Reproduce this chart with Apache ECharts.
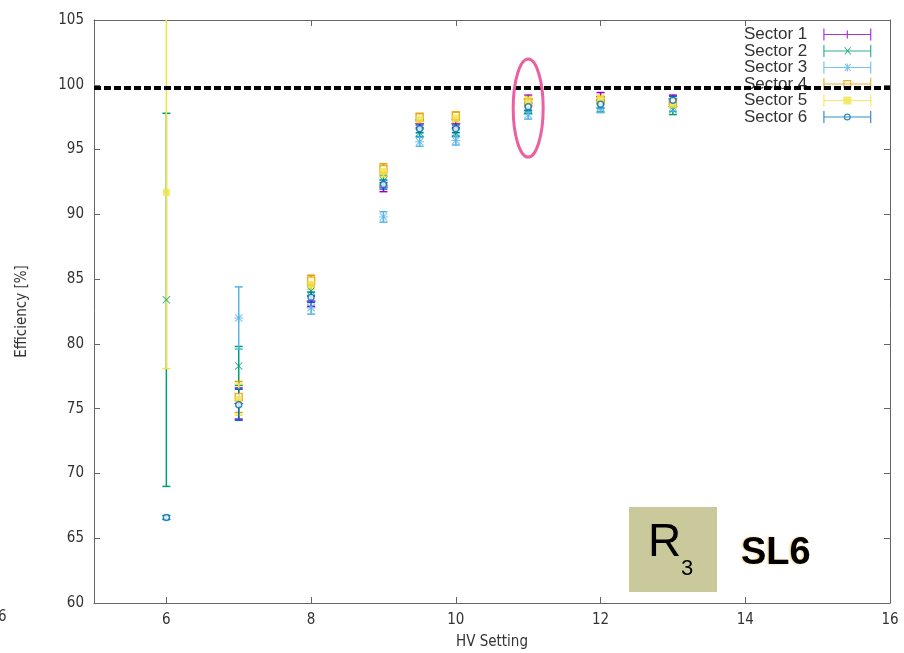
<!DOCTYPE html>
<html>
<head>
<meta charset="utf-8">
<script src="https://cdn.jsdelivr.net/npm/echarts@6/dist/echarts.min.js"></script>
<style>
html,body{margin:0;padding:0;background:#fff;}
#chart{width:904px;height:653px;}
</style>
</head>
<body>
<div id="chart"></div>
<script>
// ---- data ----
const hvSetting = [6, 7, 8, 9, 9.5, 10, 11, 12, 13];
const sectorNames = ['Sector 1', 'Sector 2', 'Sector 3', 'Sector 4', 'Sector 5', 'Sector 6'];
const sector1 = [null, 75.4, 83.3, 92.1, 97.0, 97.0, 98.9, 99.1, 98.9];
const sector1Err = [null, 1.2, 0.4, 0.35, 0.3, 0.3, 0.3, 0.3, 0.3];
const sector2 = [83.4, 78.3, 84.1, 92.6, 96.3, 96.3, 98.1, 98.3, 98.1];
const sector2Err = [14.4, 1.5, 0.4, 0.35, 0.3, 0.3, 0.3, 0.4, 0.4];
const sector3 = [null, 82.0, 82.8, 89.8, 95.6, 95.7, 97.7, 98.2, 98.3];
const sector3Err = [null, 2.4, 0.5, 0.4, 0.35, 0.35, 0.35, 0.35, 0.35];
const sector4 = [null, 75.9, 84.9, 93.5, 97.5, 97.6, 98.6, 98.8, 98.6];
const sector4Err = [null, 1.2, 0.4, 0.4, 0.3, 0.3, 0.3, 0.3, 0.3];
const sector5 = [91.7, 75.7, 84.6, 93.3, 97.3, 97.4, 98.8, 98.9, 98.5];
const sector5Err = [13.6, 1.2, 0.4, 0.4, 0.3, 0.3, 0.3, 0.3, 0.3];
const sector6 = [66.6, 75.3, 83.6, 92.3, 96.6, 96.6, 98.3, 98.5, 98.8];
const sector6Err = [0.15, 1.2, 0.4, 0.35, 0.3, 0.3, 0.3, 0.3, 0.3];
const xTicks = [6, 8, 10, 12, 14, 16];
const referenceLine = 99.8;
const highlightPoint = [11, 98.2];

// ---- styling ----
const colors = ['#9400d3', '#009e73', '#56b4e9', '#e69f00', '#f0e442', '#0072b2'];
const values = [sector1, sector2, sector3, sector4, sector5, sector6];
const errors = [sector1Err, sector2Err, sector3Err, sector4Err, sector5Err, sector6Err];
const Y_MIN = 60, Y_MAX = 105;

const symPlus = 'path://M0,4.4H10V5.6H0Z M4.4,0H5.6V10H4.4Z';
const symCross = 'path://M0.8,0L10,9.2L9.2,10L0,0.8Z M9.2,0L10,0.8L0.8,10L0,9.2Z';
const symStar = 'path://M0,4.4H10V5.6H0Z M4.4,0H5.6V10H4.4Z M1.3,0.5L9.5,8.7L8.7,9.5L0.5,1.3Z M8.7,0.5L9.5,1.3L1.3,9.5L0.5,8.7Z';
const markerDefs = [
  {symbol: symPlus, size: 9},
  {symbol: symCross, size: 8},
  {symbol: symStar, size: 9},
  {symbol: 'rect', size: 7, open: true},
  {symbol: 'rect', size: 7},
  {symbol: 'circle', size: 6, open: true}
];

const base = 'M0,5.4H48V6.6H0Z M0,0H1.2V12H0Z M46.8,0H48V12H46.8Z';
const legendIcons = [
  'path://' + base + ' M23.4,2H24.6V10H23.4Z',
  'path://' + base + ' M21,2.6L21.8,2L27.8,9.2L27,9.8Z M27,2L27.8,2.6L21.8,9.8L21,9.2Z',
  'path://' + base + ' M23.4,2H24.6V10H23.4Z M21,2.6L21.8,2L27.8,9.2L27,9.8Z M27,2L27.8,2.6L21.8,9.8L21,9.2Z',
  'path://' + base + ' M20,2H28V10H20Z M21.3,3.3V8.7H26.7V3.3Z',
  'path://' + base + ' M20,2H28V10H20Z',
  'path://' + base + ' M24,2.5A3.5,3.5 0 1,1 24,9.5A3.5,3.5 0 1,1 24,2.5Z M24,3.8A2.2,2.2 0 1,0 24,8.2A2.2,2.2 0 1,0 24,3.8Z'
];

function errRender(color) {
  return function (params, api) {
    const x = api.value(0), v = api.value(1), e = api.value(2);
    let top = v + e, bot = v - e;
    const topClipped = top > Y_MAX;
    if (topClipped) top = Y_MAX;
    const hi = api.coord([x, top]);
    const lo = api.coord([x, bot]);
    const w = 4;
    const style = {stroke: color, lineWidth: 1.5, fill: null};
    const children = [
      {type: 'line', shape: {x1: hi[0], y1: hi[1], x2: lo[0], y2: lo[1]}, style: style},
      {type: 'line', shape: {x1: lo[0] - w, y1: lo[1], x2: lo[0] + w, y2: lo[1]}, style: style}
    ];
    if (!topClipped) children.push({type: 'line', shape: {x1: hi[0] - w, y1: hi[1], x2: hi[0] + w, y2: hi[1]}, style: style});
    return {type: 'group', children: children};
  };
}

const series = [];
sectorNames.forEach(function (name, s) {
  const errData = [], ptData = [];
  hvSetting.forEach(function (x, i) {
    if (values[s][i] == null) return;
    errData.push([x, values[s][i], errors[s][i]]);
    ptData.push([x, values[s][i]]);
  });
  series.push({
    name: name + ' err', type: 'custom', xAxisIndex: 0, yAxisIndex: 0,
    renderItem: errRender(colors[s]), data: errData, clip: true, silent: true,
    itemStyle: {color: colors[s]}
  });
  const m = markerDefs[s];
  series.push({
    name: name, type: 'scatter', xAxisIndex: 0, yAxisIndex: 0,
    data: ptData, symbol: m.symbol, symbolSize: m.size, silent: true,
    itemStyle: m.open ? {color: '#fff', borderColor: colors[s], borderWidth: 1.5} : {color: colors[s]}
  });
});
series.push({
  name: 'ref', type: 'line', xAxisIndex: 0, yAxisIndex: 0, data: [], silent: true,
  markLine: {
    silent: true, symbol: ['none', 'none'], label: {show: false},
    lineStyle: {color: '#000', width: 4, type: [7, 3]},
    emphasis: {disabled: true},
    data: [{yAxis: referenceLine}]
  }
});

const axisColor = '#666';
const labelFont = '"DejaVu Sans Condensed", "Liberation Sans Narrow", "Liberation Sans", Arial, sans-serif';

const chart = echarts.init(document.getElementById('chart'), null, {renderer: 'canvas'});
chart.setOption({
  animation: false,
  backgroundColor: '#fff',
  grid: {left: 94, right: 14, top: 20, bottom: 50, outerBoundsMode: 'none', containLabel: false},
  legend: {
    orient: 'vertical', left: 739, top: 21, align: 'right',
    itemWidth: 48, itemHeight: 12, itemGap: -0.5,
    textStyle: {fontSize: 17, color: '#333', fontFamily: '"Liberation Sans", Arial, sans-serif', lineHeight: 15.5, padding: [0, 11, 0, 0]},
    selectedMode: false,
    data: sectorNames.map(function (n, i) {
      return {name: n, icon: legendIcons[i], itemStyle: {color: colors[i], borderWidth: 0}};
    })
  },
  xAxis: [{
    type: 'value', min: 5, max: 16, position: 'bottom',
    name: 'HV Setting', nameLocation: 'middle', nameGap: 32,
    nameTextStyle: {fontSize: 15, color: '#333', fontFamily: labelFont},
    axisLine: {show: true, lineStyle: {color: axisColor, width: 1}},
    axisTick: {show: true, inside: true, length: 6, customValues: xTicks, lineStyle: {color: axisColor}},
    axisLabel: {customValues: xTicks, fontSize: 15, color: '#333', margin: 10, fontFamily: labelFont},
    splitLine: {show: false}
  }, {
    type: 'value', min: 5, max: 16, position: 'top',
    axisLine: {show: true, lineStyle: {color: axisColor, width: 1}},
    axisTick: {show: true, inside: true, length: 6, customValues: xTicks, lineStyle: {color: axisColor}},
    axisLabel: {show: false}, splitLine: {show: false}
  }],
  yAxis: [{
    type: 'value', min: Y_MIN, max: Y_MAX, interval: 5, position: 'left',
    name: 'Efficiency [%]', nameLocation: 'middle', nameGap: 64, nameRotate: 90,
    nameTextStyle: {fontSize: 15, color: '#333', fontFamily: labelFont},
    axisLine: {show: true, lineStyle: {color: axisColor, width: 1}},
    axisTick: {show: true, inside: true, length: 6, lineStyle: {color: axisColor}},
    axisLabel: {fontSize: 15, color: '#333', margin: 10, fontFamily: labelFont},
    splitLine: {show: false}
  }, {
    type: 'value', min: Y_MIN, max: Y_MAX, interval: 5, position: 'right',
    axisLine: {show: true, lineStyle: {color: axisColor, width: 1}},
    axisTick: {show: true, inside: true, length: 6, lineStyle: {color: axisColor}},
    axisLabel: {show: false}, splitLine: {show: false}
  }],
  series: series
});

const c = chart.convertToPixel({gridIndex: 0}, highlightPoint);
chart.setOption({
  graphic: [
    {type: 'ellipse', shape: {cx: c[0], cy: c[1], rx: 15, ry: 49}, style: {fill: null, stroke: '#ec5fa0', lineWidth: 3}, silent: true, z: 100},
    {type: 'rect', shape: {x: 629, y: 507, width: 88, height: 85}, style: {fill: '#c9c99b'}, silent: true, z: 100},
    {type: 'text', x: 648, y: 520, style: {text: 'R', fontSize: 46, fill: '#000', fontFamily: '"Liberation Sans", Arial, sans-serif'}, silent: true, z: 101},
    {type: 'text', x: 681, y: 558, style: {text: '3', fontSize: 22, fill: '#000', fontFamily: '"Liberation Sans", Arial, sans-serif'}, silent: true, z: 101},
    {type: 'text', x: 741, y: 535, style: {text: 'SL6', fontSize: 38, fontWeight: 'bold', fill: '#000', fontFamily: '"Liberation Sans", Arial, sans-serif', textShadowColor: 'rgba(230,150,0,0.6)', textShadowBlur: 2, textShadowOffsetX: -1}, silent: true, z: 101},
    {type: 'text', x: -2, y: 610, style: {text: '6', fontSize: 15, fill: '#333', fontFamily: labelFont}, silent: true}
  ]
});
</script>
</body>
</html>
